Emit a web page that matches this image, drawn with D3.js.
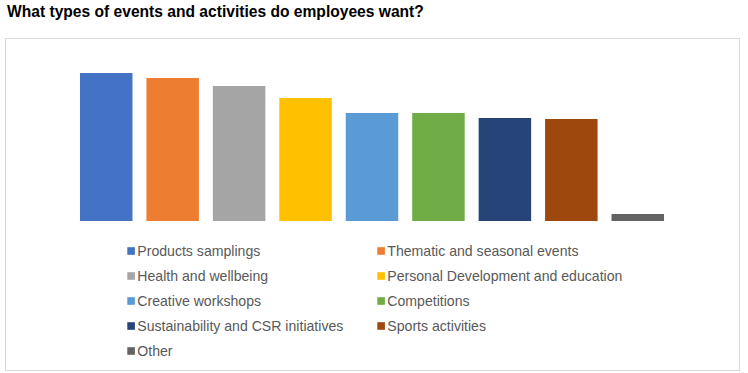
<!DOCTYPE html>
<html>
<head>
<meta charset="utf-8">
<script src="https://cdn.jsdelivr.net/npm/d3@7"></script>
<style>
  body { margin: 0; background: #fff; }
  svg { display: block; font-family: "Liberation Sans", Arial, sans-serif; }
</style>
</head>
<body>
<svg id="chart"></svg>
<script>
// survey answers (relative scale)
var categories = [
  "Products samplings",
  "Thematic and seasonal events",
  "Health and wellbeing",
  "Personal Development and education",
  "Creative workshops",
  "Competitions",
  "Sustainability and CSR initiatives",
  "Sports activities",
  "Other"
];
var values = [74, 71.5, 67.5, 61.5, 54, 54, 51.5, 51, 3.5];
var colors = ["#4472c4", "#ed7d31", "#a5a5a5", "#ffc000", "#5b9bd5", "#70ad47", "#264478", "#9e480e", "#636363"];
var title = "What types of events and activities do employees want?";

var svgWidth = 748, svgHeight = 373;

var svg = d3.select("#chart")
  .attr("width", svgWidth)
  .attr("height", svgHeight);

svg.append("text")
  .attr("x", 7)
  .attr("y", 17)
  .attr("font-size", 15.6)
  .attr("font-weight", "bold")
  .attr("fill", "#000")
  .text(title);

// chart frame
svg.append("rect")
  .attr("x", 5.5)
  .attr("y", 38.5)
  .attr("width", 734)
  .attr("height", 332)
  .attr("fill", "#fff")
  .attr("stroke", "#d9d9d9");

var x = d3.scaleBand()
  .domain(categories)
  .range([73, 671])
  .paddingInner(0.21)
  .paddingOuter(0.105);

var y = d3.scaleLinear()
  .domain([0, 80])
  .range([221, 61]);

svg.append("g")
  .selectAll("rect")
  .data(categories)
  .join("rect")
    .attr("x", function(d) { return x(d); })
    .attr("y", function(d, i) { return y(values[i]); })
    .attr("width", x.bandwidth())
    .attr("height", function(d, i) { return y(0) - y(values[i]); })
    .attr("fill", function(d, i) { return colors[i]; });

// legend, two columns
var legend = svg.append("g")
  .selectAll("g")
  .data(categories)
  .join("g")
    .attr("transform", function(d, i) {
      return "translate(" + (i % 2 === 0 ? 127.3 : 377.3) + "," + (251 + Math.floor(i / 2) * 25) + ")";
    });

legend.append("rect")
  .attr("x", 0)
  .attr("y", -3.8)
  .attr("width", 7.6)
  .attr("height", 7.6)
  .attr("fill", function(d, i) { return colors[i]; });

legend.append("text")
  .attr("x", 10)
  .attr("y", 5)
  .attr("font-size", 14.1)
  .attr("fill", "#595959")
  .text(function(d) { return d; });
</script>
</body>
</html>
